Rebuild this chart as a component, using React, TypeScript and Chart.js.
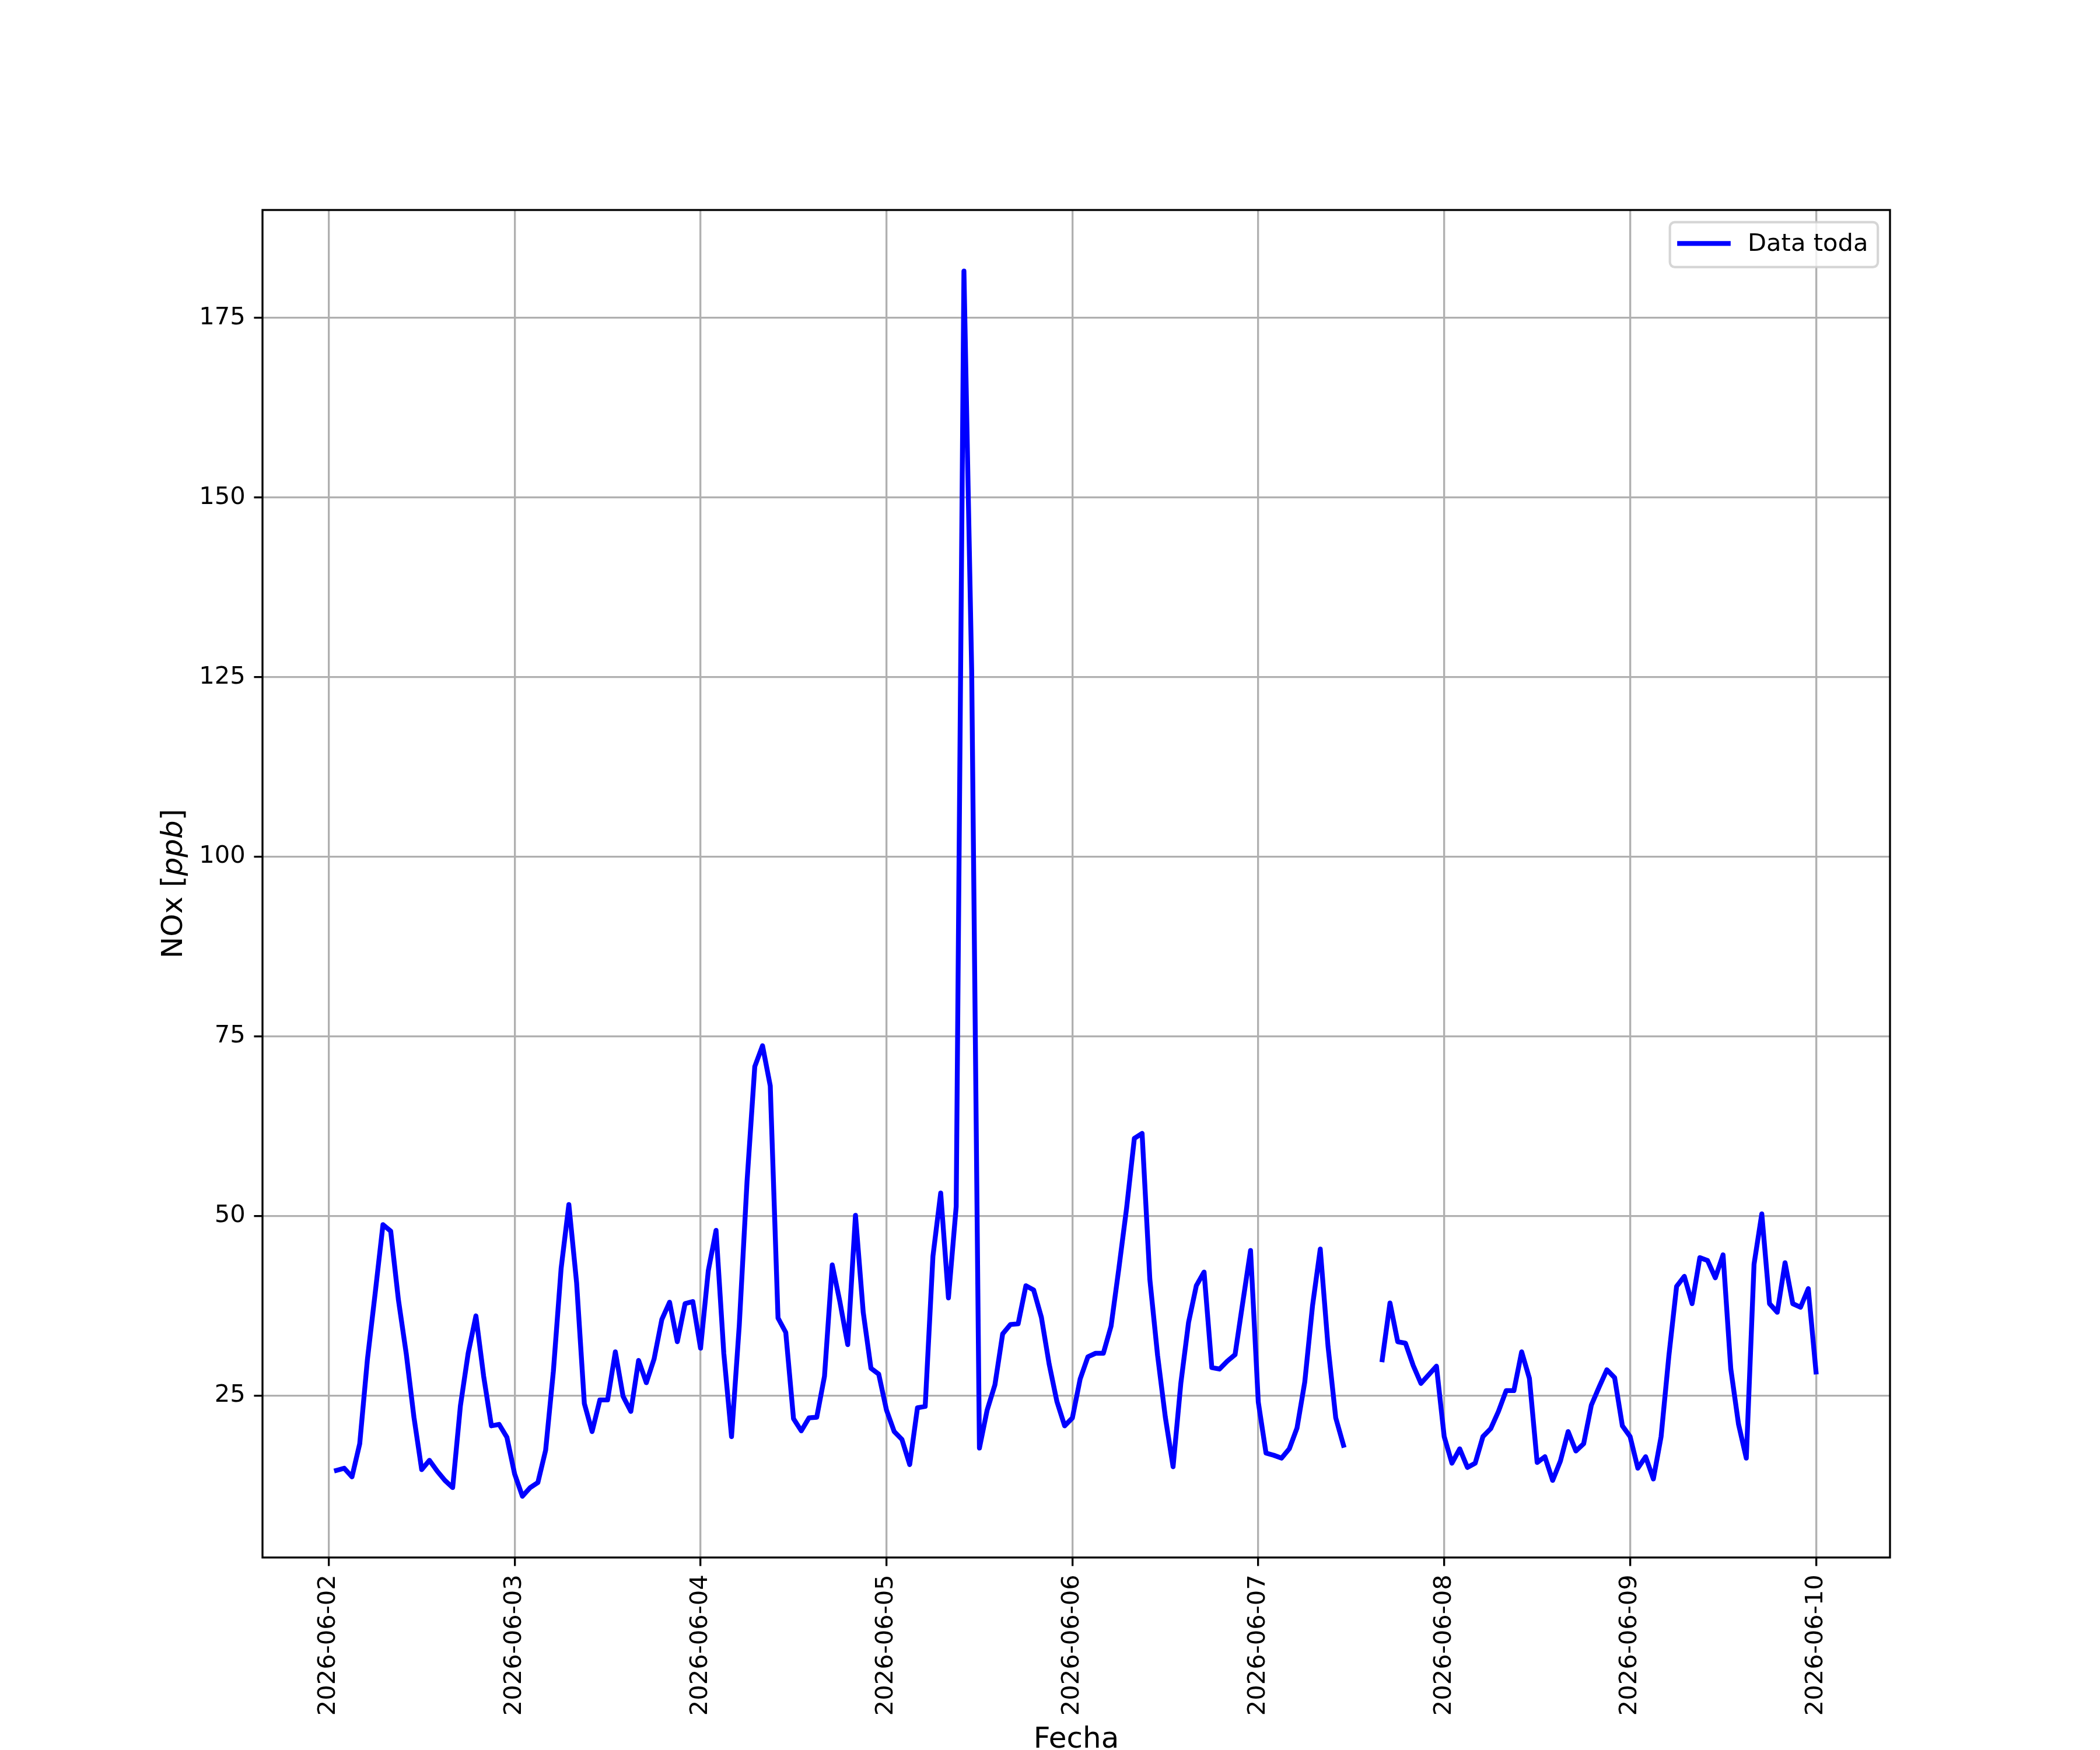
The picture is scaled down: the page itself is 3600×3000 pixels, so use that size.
import React, { useEffect, useRef } from 'react';
import { Chart, registerables } from 'chart.js';

Chart.register(...registerables);

// tick labels on the time axis (one per day, at 00:00)
const dayLabels = [
  '2026-06-02', '2026-06-03', '2026-06-04', '2026-06-05', '2026-06-06',
  '2026-06-07', '2026-06-08', '2026-06-09', '2026-06-10',
];

// hourly NOx [ppb]; index in each array = hour of the day (00..23)
const nox0602 = [
  null, 14.6, 14.9, 13.7, 18.3, 30.1, 39.3, 48.8, 47.9, 38.3, 30.9, 22.0,
  14.7, 16.0, 14.5, 13.2, 12.2, 23.6, 30.9, 36.1, 27.7, 20.8, 21.0, 19.2,
];
const nox0603 = [
  14.1, 11.0, 12.2, 12.9, 17.4, 28.4, 42.7, 51.6, 40.7, 23.9, 20.0, 24.4,
  24.4, 31.1, 24.9, 22.8, 29.9, 26.8, 30.1, 35.6, 38.0, 32.5, 37.8, 38.1,
];
const nox0604 = [
  31.6, 42.4, 48.0, 30.9, 19.3, 34.8, 54.8, 70.8, 73.7, 68.1, 35.8, 33.8,
  21.8, 20.1, 21.9, 22.0, 27.7, 43.2, 38.0, 32.1, 50.1, 36.6, 28.8, 28.0,
];
const nox0605 = [
  23.0, 20.0, 18.9, 15.4, 23.3, 23.5, 44.4, 53.2, 38.6, 51.3, 181.5, 126.0,
  17.7, 23.0, 26.5, 33.6, 34.9, 35.0, 40.3, 39.7, 35.9, 29.4, 24.2, 20.8,
];
const nox0606 = [
  21.9, 27.3, 30.4, 30.9, 30.9, 34.7, 42.7, 51.1, 60.8, 61.5, 41.2, 30.6,
  22.0, 15.1, 26.7, 35.2, 40.3, 42.2, 28.9, 28.7, 29.8, 30.7, 38.0, 45.2,
];
const nox0607 = [
  24.1, 17.0, 16.7, 16.3, 17.6, 20.5, 26.9, 37.5, 45.4, 31.9, 21.9, 18.1,
  null, null, null, null, 30.0, 37.9, 32.5, 32.3, 29.2, 26.7, 27.9, 29.1,
];
const nox0608 = [
  19.3, 15.6, 17.6, 15.0, 15.6, 19.3, 20.4, 22.8, 25.7, 25.7, 31.1, 27.4,
  15.7, 16.5, 13.2, 15.9, 20.0, 17.3, 18.3, 23.7, 26.2, 28.6, 27.5, 20.8,
];
const nox0609 = [
  19.3, 14.9, 16.5, 13.4, 19.3, 30.5, 40.2, 41.6, 37.8, 44.2, 43.8, 41.4,
  44.6, 28.7, 21.0, 16.3, 43.3, 50.3, 37.8, 36.6, 43.5, 37.8, 37.3, 39.9,
];
const nox0610 = [28.3];

const noxByDay = [nox0602, nox0603, nox0604, nox0605, nox0606, nox0607, nox0608, nox0609, nox0610];

const yTicks = [25, 50, 75, 100, 125, 150, 175];

// matplotlib style at 300 dpi
const PT = 300 / 72;
const FONT = '"DejaVu Sans", sans-serif';

const mplPlugin = {
  id: 'mplDecor',
  afterDatasetsDraw(chart: any) {
    const { ctx, chartArea: a } = chart;
    ctx.save();
    ctx.strokeStyle = '#000000';
    ctx.lineWidth = 0.8 * PT;
    ctx.strokeRect(a.left, a.top, a.right - a.left, a.bottom - a.top);
    ctx.restore();
  },
  afterDraw(chart: any) {
    const { ctx, chartArea: a } = chart;
    const fs = 10 * PT;
    const ls = 12 * PT;
    ctx.save();
    ctx.fillStyle = '#000000';

    // x label
    ctx.font = `${ls}px ${FONT}`;
    ctx.textAlign = 'center';
    ctx.textBaseline = 'alphabetic';
    ctx.fillText('Fecha', (a.left + a.right) / 2, 2996);

    // y label with italic unit
    const parts = [
      { t: 'NOx [', f: `${ls}px ${FONT}` },
      { t: 'ppb', f: `italic ${ls}px ${FONT}` },
      { t: ']', f: `${ls}px ${FONT}` },
    ];
    let total = 0;
    const widths = parts.map((p) => {
      ctx.font = p.f;
      const w = ctx.measureText(p.t).width;
      total += w;
      return w;
    });
    ctx.translate(312, (a.top + a.bottom) / 2);
    ctx.rotate(-Math.PI / 2);
    ctx.textAlign = 'left';
    let px = -total / 2;
    parts.forEach((p, i) => {
      ctx.font = p.f;
      ctx.fillText(p.t, px, 0);
      px += widths[i];
    });
    ctx.restore();

    // legend, upper right
    ctx.save();
    ctx.font = `${fs}px ${FONT}`;
    const label = 'Data toda';
    const tw = ctx.measureText(label).width;
    const pad = 0.4 * fs;
    const handle = 2.0 * fs;
    const gap = 0.8 * fs;
    const bw = pad + handle + gap + tw + pad;
    const bh = 2 * pad + fs * 1.05;
    const right = a.right - 0.5 * fs;
    const top = a.top + 0.5 * fs;
    const left = right - bw;
    ctx.beginPath();
    ctx.roundRect(left, top, bw, bh, 0.2 * fs);
    ctx.fillStyle = 'rgba(255,255,255,0.8)';
    ctx.fill();
    ctx.lineWidth = 1.0 * PT;
    ctx.strokeStyle = 'rgba(204,204,204,0.8)';
    ctx.stroke();
    const cy = top + bh / 2;
    ctx.beginPath();
    ctx.moveTo(left + pad, cy - 2);
    ctx.lineTo(left + pad + handle, cy - 2);
    ctx.strokeStyle = '#0000ff';
    ctx.lineWidth = 2 * PT;
    ctx.lineCap = 'square';
    ctx.stroke();
    ctx.fillStyle = '#000000';
    ctx.textAlign = 'left';
    ctx.textBaseline = 'middle';
    ctx.fillText(label, left + pad + handle + gap, cy);
    ctx.restore();
  },
};

const App: React.FC = () => {
  const chartRef = useRef<HTMLCanvasElement>(null);
  const chartInstance = useRef<Chart | null>(null);

  useEffect(() => {
    document.body.style.margin = '0';
    if (!chartRef.current) return;
    const ctx = chartRef.current.getContext('2d');
    if (!ctx) return;
    if (chartInstance.current) chartInstance.current.destroy();

    const points: { x: number; y: number | null }[] = [];
    noxByDay.forEach((day, d) => {
      day.forEach((v, h) => points.push({ x: d * 24 + h, y: v }));
    });
    const first = 1;
    const last = (noxByDay.length - 1) * 24;
    const margin = 0.05 * (last - first);

    chartInstance.current = new Chart(ctx, {
      type: 'line',
      data: {
        datasets: [{
          label: 'Data toda',
          data: points as any,
          borderColor: '#0000ff',
          borderWidth: 2 * PT,
          borderJoinStyle: 'round',
          borderCapStyle: 'square',
          pointRadius: 0,
          tension: 0,
          spanGaps: false,
          fill: false,
        }],
      },
      options: {
        animation: false,
        responsive: false,
        devicePixelRatio: 1,
        events: [],
        layout: { padding: { top: 360, right: 360, left: 0, bottom: 0 } },
        plugins: {
          legend: { display: false },
          tooltip: { enabled: false },
        },
        scales: {
          x: {
            type: 'linear',
            min: first - margin,
            max: last + margin,
            afterFit: (scale: any) => { scale.height = 330; },
            afterBuildTicks: (scale: any) => {
              scale.ticks = dayLabels.map((_, i) => ({ value: i * 24 }));
            },
            border: { display: false },
            grid: {
              color: '#b0b0b0',
              lineWidth: 0.8 * PT,
              tickColor: '#000000',
              tickLength: 3.5 * PT,
              tickWidth: 0.8 * PT,
            },
            ticks: {
              autoSkip: false,
              maxRotation: 90,
              minRotation: 90,
              padding: 3.5 * PT,
              color: '#000000',
              font: { family: FONT, size: 10 * PT },
              callback: (_v: any, i: number) => dayLabels[i],
            },
          },
          y: {
            type: 'linear',
            min: 2.475,
            max: 190,
            afterFit: (scale: any) => { scale.width = 450; },
            afterBuildTicks: (scale: any) => {
              scale.ticks = yTicks.map((v) => ({ value: v }));
            },
            border: { display: false },
            grid: {
              color: '#b0b0b0',
              lineWidth: 0.8 * PT,
              tickColor: '#000000',
              tickLength: 3.5 * PT,
              tickWidth: 0.8 * PT,
            },
            ticks: {
              padding: 3.5 * PT,
              color: '#000000',
              font: { family: FONT, size: 10 * PT },
              callback: (v: any) => String(v),
            },
          },
        },
      },
      plugins: [mplPlugin],
    });

    return () => {
      if (chartInstance.current) {
        chartInstance.current.destroy();
        chartInstance.current = null;
      }
    };
  }, []);

  return (
    <div style={{ width: 3600, height: 3000 }}>
      <canvas ref={chartRef} width={3600} height={3000} style={{ width: 3600, height: 3000, display: 'block' }} />
    </div>
  );
};

export default App;
